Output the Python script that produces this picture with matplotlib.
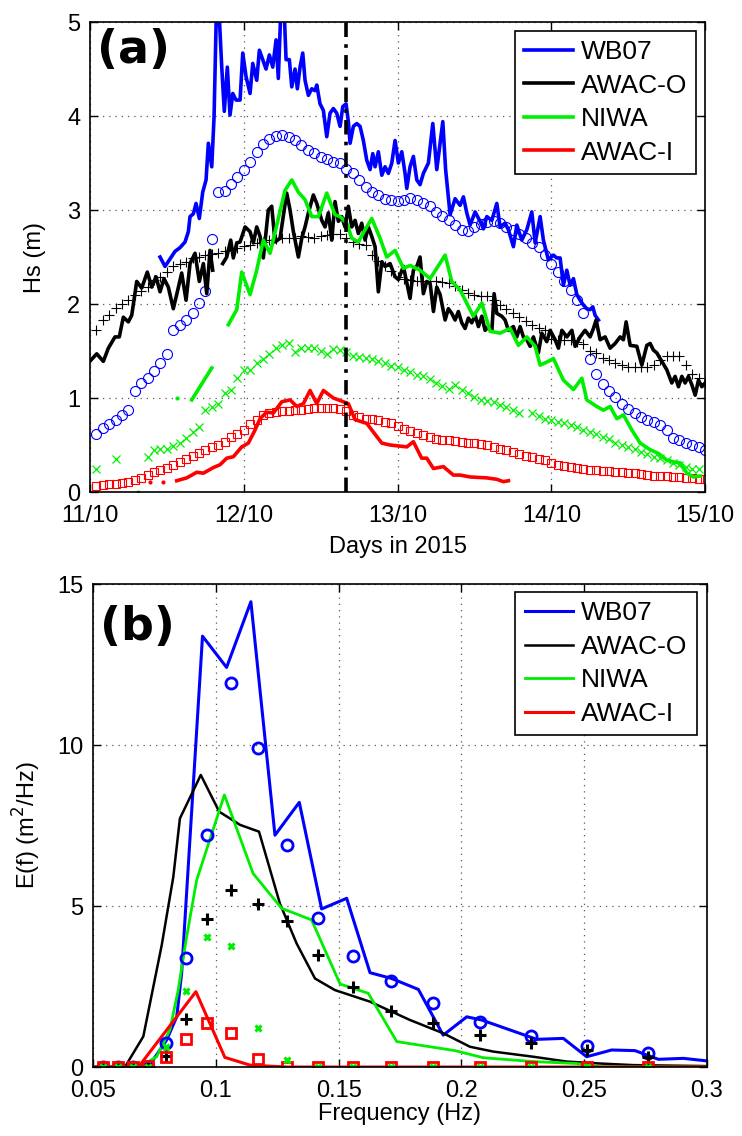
import matplotlib.pyplot as plt
import numpy as np

plt.rcParams['font.family'] = ['Liberation Sans', 'DejaVu Sans']

# ---------------- panel (a): Hs time series, hours after 11/10 00:00 ----------------
wb07_h = [10.93, 11.71, 12.5, 13.27, 14.05, 14.83, 15.35, 15.61, 16.13, 16.55, 17.06, 17.59, 18.11,
          18.47, 19.0, 19.36, 19.78, 20.18, 20.56, 20.96, 21.43, 21.85, 22.28, 22.79, 23.42, 23.84,
          24.35, 24.98, 25.4, 26.02, 26.43, 26.96, 27.47, 27.99, 28.52, 29.04, 29.39, 29.82, 30.2,
          30.6, 31.11, 31.49, 32.0, 32.36, 32.78, 33.2, 33.56, 34.08, 34.61, 35.12, 35.39, 35.9,
          36.42, 36.95, 37.46, 37.98, 38.51, 39.03, 39.45, 39.96, 40.32, 40.59, 41.1, 41.63, 42.15,
          42.66, 43.19, 43.71, 44.13, 44.49, 45.0, 45.54, 46.05, 46.57, 47.1, 47.61, 48.13, 48.66,
          49.17, 49.44, 49.95, 50.47, 51.0, 51.51, 52.03, 52.81, 53.5, 54.12, 55.06, 55.5, 56.2,
          56.98, 57.76, 58.28, 58.8, 59.32, 60.1, 60.88, 61.4, 61.93, 62.71, 63.49, 64.0, 64.78,
          65.3, 66.08, 66.61, 67.39, 68.17, 68.95, 69.47, 70.25, 70.76, 71.54, 72.32, 72.85, 73.37,
          73.88, 74.41, 74.93, 75.45, 75.98, 76.49, 77.0, 77.53, 78.05, 78.47, 78.83, 79.35]
wb07_hs = [2.50, 2.40, 2.48, 2.56, 2.60, 2.66, 2.77, 2.93, 2.96, 3.07, 2.91, 3.19, 3.32,
           3.71, 3.46, 3.99, 5.3, 5.05, 4.52, 4.05, 4.52, 4.01, 4.24, 4.17, 4.17, 4.67,
           4.42, 4.24, 4.56, 4.38, 4.70, 4.60, 4.50, 4.65, 4.52, 4.81, 4.40, 5.2, 5.3,
           4.60, 4.60, 4.31, 4.50, 4.29, 4.52, 4.67, 4.38, 4.22, 4.29, 4.27, 4.33, 4.13,
           4.06, 3.78, 4.03, 4.08, 4.03, 3.89, 4.10, 4.13, 3.94, 3.71, 3.89, 3.92, 3.89,
           3.74, 3.53, 3.43, 3.60, 3.46, 3.62, 3.37, 3.46, 3.39, 3.50, 3.74, 3.50, 3.62,
           3.39, 3.23, 3.46, 3.57, 3.32, 3.27, 3.39, 3.50, 3.92, 3.43, 3.94, 3.43, 2.95,
           3.12, 3.05, 3.14, 2.97, 2.84, 2.98, 2.88, 2.80, 2.93, 2.89, 3.07, 2.82, 2.86,
           2.79, 2.61, 2.84, 2.68, 2.79, 2.98, 2.65, 2.93, 2.68, 2.47, 2.52, 2.49, 2.49,
           2.20, 2.36, 2.20, 2.27, 2.10, 2.04, 1.99, 1.95, 1.94, 1.97, 1.88, 1.83]

awaco_h = [0.1, 1.05, 2.08, 2.86, 3.9, 4.57, 5.2, 5.98, 6.51, 7.29, 8.07, 8.94, 9.63, 10.3, 10.93,
           11.55, 12.22, 13.0, 13.63, 14.31, 14.99, 15.61, 16.39, 17.06, 17.69, 18.22, 18.73, 19.15,
           19.9, 20.71, 21.34, 21.96, 22.37, 22.9, 23.42, 24.2, 24.98, 25.49, 26.02, 26.54, 27.05,
           27.83, 28.36, 28.88, 29.66, 30.7, 31.22, 31.74, 32.52, 33.05, 33.56, 34.08, 34.86, 35.39,
           36.17, 36.68, 37.2, 37.73, 38.24, 38.76, 39.29, 39.8, 40.32, 40.85, 41.37, 41.88, 42.41,
           42.93, 43.44, 43.97, 44.49, 45.0, 45.54, 46.05, 46.83, 47.61, 48.13, 48.91, 49.95, 50.47,
           51.0, 51.51, 52.03, 52.55, 53.08, 53.6, 54.12, 54.64, 55.42, 55.93, 56.46, 56.98, 57.49,
           58.02, 58.54, 59.05, 59.58, 60.1, 60.62, 61.15, 61.66, 62.18, 62.71, 63.07, 63.49, 64.27,
           64.78, 65.3, 66.08, 66.61, 67.12, 67.64, 68.17, 68.69, 69.2, 69.98, 70.51, 71.29, 71.81,
           72.59, 73.11, 73.64, 74.42, 75.2, 75.71, 76.49, 77.27, 78.05, 78.57, 78.99, 79.61, 80.39,
           81.17, 81.95, 82.74, 83.25, 83.67, 84.3, 85.34, 86.12, 86.9, 87.42, 87.93, 88.46, 89.24,
           90.02, 90.8, 91.32, 91.84, 92.37, 92.88, 93.4, 93.93, 94.45, 94.96, 95.49, 96.0]
awaco_hs = [1.40, 1.47, 1.39, 1.53, 1.65, 1.65, 1.86, 1.81, 1.88, 2.24, 2.17, 2.34, 2.18, 2.29, 2.13,
            2.27, 2.18, 1.95, 2.13, 2.33, 2.04, 2.43, 2.54, 2.24, 2.43, 2.11, 2.57, 2.36,
            np.nan, 2.43, 2.50, 2.68, 2.49, 2.65, 2.66, 2.82, 2.77, 2.65, 2.82, 2.72, 2.49,
            3.00, 3.04, 2.66, 2.70, 3.18, 3.00, 2.77, 2.50, 2.70, 2.82, 2.97, 3.16, 3.07,
            2.89, 2.82, 2.97, 2.68, 3.09, 2.88, 2.93, 2.82, 3.04, 2.82, 2.89, 2.75, 2.86,
            2.68, 2.82, 2.72, 2.61, 2.13, 2.45, 2.40, 2.43, 2.29, 2.26, 2.40, 2.06, 2.36,
            2.40, 2.50, 2.11, 2.24, 2.22, 1.92, 2.18, 2.10, 1.83, 1.95, 1.90, 1.83, 1.92,
            1.80, 1.74, 1.85, 1.80, 1.88, 1.76, 1.87, 1.72, 1.76, 1.71, 2.11, 1.90, 1.87,
            1.83, 1.72, 1.76, 1.65, 1.76, 1.65, 1.62, 1.55, 1.65, 1.48, 1.69, 1.60, 1.72,
            1.62, 1.53, 1.72, 1.65, 1.72, 1.55, 1.65, 1.72, 1.65, 1.74, 1.83, 1.62, 1.65,
            1.53, 1.58, 1.65, 1.62, 1.81, 1.56, 1.55, 1.35, 1.56, 1.58, 1.51, 1.48, 1.39,
            1.30, 1.16, 1.23, 1.12, 1.23, 1.16, 1.23, 1.14, 1.03, 1.19, 1.12, 1.16]

niwa_h = [15.88, 17.44, 19.0, 20.3, 21.59, 22.9, 23.68, 24.98, 26.02, 27.05, 28.1, 30.44, 31.49,
          32.52, 33.56, 34.61, 35.64, 36.95, 38.24, 39.03, 40.07, 40.85, 41.88, 42.93, 43.97,
          45.27, 46.31, 47.61, 48.91, 49.95, 51.51, 53.08, 55.42, 56.46, 57.76, 59.83, 61.15,
          62.44, 64.0, 65.56, 66.86, 68.17, 69.47, 70.25, 71.54, 72.32, 73.88, 75.45, 76.76,
          77.53, 79.09, 80.13, 81.17, 82.22, 83.25, 84.56, 85.86, 87.42, 88.71, 90.02, 91.06,
          92.1, 93.15, 94.18, 95.22]
niwa_hs = [0.98, 1.15, 1.32, np.nan, 1.78, 1.94, 2.34, 2.10, 2.36, 2.68, 2.54, 3.21, 3.32,
           3.19, 3.11, 2.93, 2.93, 3.18, 2.95, 2.93, 2.86, 2.70, 2.66, 2.79, 2.91,
           2.70, 2.50, 2.57, 2.38, 2.41, 2.36, 2.27, 2.52, 2.24, 2.15, 1.87, 2.01,
           1.71, 1.69, 1.74, 1.56, 1.65, 1.55, 1.35, 1.39, 1.42, 1.19, 1.09, 1.21,
           0.98, 0.91, 0.87, 0.91, 0.78, 0.82, 0.66, 0.52, 0.45, 0.41, 0.34, 0.32,
           0.31, 0.20, 0.16, 0.17]
niwa_dot_h = [7.54, 13.5]
niwa_dot_hs = [0.0, 1.0]

awaci_h = [13.53, 15.09, 16.66, 17.69, 19.25, 20.29, 21.34, 22.37, 23.68, 24.71, 25.76, 26.54,
           27.58, 28.61, 29.93, 31.22, 32.27, 33.3, 34.34, 35.39, 36.42, 37.98, 39.54, 40.32,
           41.37, 43.19, 45.54, 46.83, 49.44, 50.47, 51.76, 52.55, 53.6, 55.15, 56.71, 57.76,
           59.32, 61.93, 63.49, 64.52, 65.3]
awaci_hs = [0.12, 0.15, 0.21, 0.20, 0.26, 0.29, 0.36, 0.375, 0.48, 0.52, 0.66, 0.78,
            0.85, 0.84, 0.96, 0.98, 0.91, 0.94, 1.08, 0.94, 1.08, 1.00, 0.96, 0.94,
            0.77, 0.73, 0.52, 0.50, 0.48, 0.535, 0.36, 0.36, 0.25, 0.27, 0.18, 0.18,
            0.16, 0.15, 0.135, 0.11, 0.12]
awaci_dot_h = [9.37, 11.44]
awaci_dot_hs = [0.11, 0.11]

# model output, hourly (hours 1..96)
model_h = np.arange(1, 97)
wb07_mod = [0.62, 0.68, 0.72, 0.77, 0.82, 0.87, 1.07, 1.16, 1.21, 1.29, 1.37, 1.47, 1.72, 1.78, 1.83, 1.90,
            2.01, 2.14, 2.69, 3.195, 3.205, 3.28, 3.355, 3.43, 3.51, 3.62, 3.70, 3.76, 3.79, 3.80, 3.78, 3.74,
            3.69, 3.64, 3.61, 3.56, 3.54, 3.51, 3.50, 3.44, 3.39, 3.32, 3.25, 3.19, 3.16, 3.12, 3.11, 3.10,
            3.11, 3.13, 3.11, 3.08, 3.04, 2.98, 2.94, 2.89, 2.84, 2.79, 2.78, 2.82, 2.85, 2.87, 2.88, 2.86,
            2.82, 2.79, 2.75, 2.70, 2.65, 2.61, 2.52, 2.43, 2.34, 2.24, 2.15, 2.04, 1.90, 1.42, 1.26, 1.15,
            1.07, 1.01, 0.94, 0.88, 0.84, 0.80, 0.77, 0.74, 0.71, 0.66, 0.57, 0.55, 0.52, 0.50, 0.475, 0.45]
awaco_mod = [1.72, 1.83, 1.88, 1.96, 2.00, 2.04, 2.10, 2.14, 2.18, 2.26, 2.29, 2.34, 2.40, 2.43, 2.45, 2.49,
             2.50, 2.52, 2.53, 2.54, 2.56, 2.58, 2.60, 2.62, 2.63, 2.65, 2.66, 2.68, 2.69, 2.70, 2.70, 2.70,
             2.72, 2.71, 2.70, 2.72, 2.73, 2.74, 2.74, 2.70, 2.66, 2.64, 2.63, 2.52, 2.46, 2.40, 2.35, 2.29,
             2.27, 2.26, 2.25, 2.25, 2.24, 2.24, 2.23, 2.22, 2.19, 2.15, 2.12, 2.10, 2.09, 2.08, 2.04, 1.99,
             1.95, 1.90, 1.86, 1.82, 1.78, 1.75, 1.72, 1.63, 1.62, 1.62, 1.62, 1.60, 1.57, 1.50, 1.48, 1.43,
             1.40, 1.37, 1.35, 1.33, 1.33, 1.33, 1.33, 1.35, 1.40, 1.45, 1.45, 1.45, 1.35, 1.26, 1.21, 1.16]
niwa_mod = [0.25, np.nan, np.nan, 0.35, np.nan, np.nan, np.nan, np.nan, 0.375, 0.45, 0.46, 0.46, 0.49, 0.52,
            0.57, 0.64, 0.69, 0.87, 0.90, 0.94, 1.05, 1.08, 1.21, 1.30, 1.30, 1.37, 1.42, 1.47, 1.53, 1.56,
            1.58, 1.49, 1.53, 1.53, 1.53, 1.50, 1.47, 1.52, 1.51, 1.49, 1.45, 1.44, 1.43, 1.42, 1.39, 1.37,
            1.34, 1.33, 1.30, 1.28, 1.25, 1.23, 1.20, 1.16, 1.13, 1.10, 1.14, 1.08, 1.05, 1.01, 0.98, 0.97,
            0.96, 0.93, 0.90, 0.87, 0.84, np.nan, 0.84, 0.81, 0.78, 0.77, 0.75, 0.73, 0.71, 0.69, 0.66, 0.64,
            0.62, 0.59, 0.56, 0.52, 0.50, 0.48, 0.46, 0.43, 0.40, 0.375, 0.36, 0.34, 0.31, 0.29, 0.27, 0.25,
            0.25, np.nan]
awaci_mod = [0.06, 0.07, 0.08, 0.09, 0.10, 0.11, 0.13, 0.15, 0.18, 0.21, 0.23, 0.26, 0.29, 0.32, 0.35, 0.38,
             0.42, 0.45, 0.48, 0.50, 0.53, 0.58, 0.62, 0.66, 0.72, 0.77, 0.82, 0.84, 0.85, 0.86, 0.86, 0.87,
             0.87, 0.88, 0.89, 0.89, 0.89, 0.89, 0.88, 0.86, 0.82, 0.80, 0.78, 0.78, 0.77, 0.75, 0.73, 0.70,
             0.67, 0.65, 0.63, 0.61, 0.58, 0.56, 0.55, 0.55, 0.54, 0.535, 0.525, 0.52, 0.51, 0.50, 0.48, 0.46,
             0.445, 0.43, 0.40, 0.38, 0.37, 0.355, 0.34, 0.31, 0.29, 0.275, 0.265, 0.255, 0.245, 0.235, 0.23,
             0.225, 0.22, 0.215, 0.21, 0.205, 0.20, 0.19, 0.18, 0.175, 0.17, 0.165, 0.16, 0.155, 0.15, 0.145,
             0.14, 0.135]

event_h = 40  # time of the spectra in panel (b)
day_ticks = [11, 12, 13, 14, 15]
day_labels = ['11/10', '12/10', '13/10', '14/10', '15/10']

# ---------------- panel (b): spectra ----------------
f_wb07 = [0.05, 0.055, 0.06, 0.065, 0.0691, 0.0745, 0.080, 0.0841, 0.0861, 0.0946, 0.1044, 0.1143,
          0.1241, 0.1340, 0.1431, 0.1533, 0.1628, 0.1716, 0.1825, 0.1926, 0.2022, 0.2083, 0.2307,
          0.2415, 0.2510, 0.2612, 0.2707, 0.2802, 0.2904, 0.30]
e_wb07 = [0, 0, 0, 0, 0.02, 0.22, 0.84, 1.56, 2.91, 13.38, 12.41, 14.45,
          7.20, 8.22, 4.91, 5.24, 2.93, 2.75, 2.41, 0.99, 1.56, 1.46, 0.86,
          0.89, 0.32, 0.53, 0.51, 0.24, 0.27, 0.19]
f_awaco = [0.05, 0.063, 0.0705, 0.078, 0.0827, 0.0854, 0.0939, 0.1014, 0.1099, 0.1176, 0.1261, 0.1329,
           0.1404, 0.1485, 0.1628, 0.1791, 0.1926, 0.2035, 0.2130, 0.2293, 0.2429, 0.2564, 0.27, 0.30]
e_awaco = [0, 0, 0.95, 3.79, 5.9, 7.72, 9.07, 7.93, 7.52, 7.31, 5.08, 3.84,
           2.75, 2.39, 2.03, 1.46, 1.05, 0.63, 0.48, 0.32, 0.17, 0.11, 0.06, 0.03]
f_niwa = [0.05, 0.069, 0.0759, 0.0813, 0.0847, 0.0879, 0.0922, 0.1035, 0.1152, 0.1268, 0.1390, 0.1506,
          0.1621, 0.1737, 0.1974, 0.2089, 0.2293, 0.2469, 0.2564, 0.30]
e_niwa = [0, 0, 0.32, 1.15, 2.39, 3.94, 5.80, 8.45, 6.01, 4.93, 4.57, 2.58,
          2.29, 0.79, 0.51, 0.29, 0.17, 0.11, 0.01, 0]
f_awaci = [0.05, 0.0685, 0.0919, 0.1037, 0.1139, 0.1289, 0.30]
e_awaci = [0, 0, 2.34, 0.30, 0.06, 0.0, 0]

f_mod = [0.0542, 0.0600, 0.0662, 0.0725, 0.0798, 0.0878, 0.0966, 0.1064, 0.1172, 0.1289, 0.1417,
         0.1557, 0.1712, 0.1886, 0.2076, 0.2283, 0.2513, 0.2761]
e_wb07_mod = [0, 0, 0, 0.01, 0.75, 3.38, 7.2, 11.94, 9.9, 6.9, 4.62, 3.45, 2.68, 2.0, 1.41, 0.96, 0.66, 0.44]
e_awaco_mod = [0, 0, 0, 0, 0.34, 1.48, 4.59, 5.5, 5.06, 4.54, 3.48, 2.48, 1.75, 1.36, 0.99, 0.74, 0.53, 0.32]
e_niwa_mod = [0, 0, 0, 0, 0.63, 2.37, 4.05, 3.76, 1.2, 0.22, 0, 0, 0, 0, 0, 0, 0, 0]
e_awaci_mod = [0, 0, 0, 0.03, 0.32, 0.86, 1.36, 1.05, 0.25, 0, 0, 0, 0, 0, 0, 0, 0, 0]

names = ['WB07', 'AWAC-O', 'NIWA', 'AWAC-I']
cols = ['#0000ff', '#000000', '#00ee00', '#ff0000']


def days(h):
    return 11 + np.asarray(h, dtype=float) / 24.0


def style(ax):
    ax.grid(True, linestyle=(0, (1, 4)), color='0.35', linewidth=0.9)
    ax.tick_params(direction='in', length=6, width=1, top=True, right=True, labelsize=17, pad=7)
    ax.tick_params(axis='x', pad=9)
    for s in ax.spines.values():
        s.set_linewidth(1.2)


fig = plt.figure(figsize=(7.42, 11.36), dpi=100)

# ---------------- (a) ----------------
ax1 = fig.add_axes([0.1213, 0.5669, 0.829, 0.4137])
ax1.plot(days(model_h), wb07_mod, 'o', mfc='none', mec=cols[0], ms=7.2, mew=0.8)
ax1.plot(days(model_h), awaco_mod, '+', color=cols[1], ms=7, mew=0.8)
ax1.plot(days(model_h), niwa_mod, 'x', color=cols[2], ms=6, mew=0.9)
ax1.plot(days(model_h), awaci_mod, 's', mfc='none', mec=cols[3], ms=5.8, mew=0.8)
l1, = ax1.plot(days(wb07_h), wb07_hs, color=cols[0], lw=2.6)
l2, = ax1.plot(days(awaco_h), awaco_hs, color=cols[1], lw=2.6)
l3, = ax1.plot(days(niwa_h), niwa_hs, color=cols[2], lw=2.6)
l4, = ax1.plot(days(awaci_h), awaci_hs, color=cols[3], lw=2.6)
ax1.plot(days(niwa_dot_h), niwa_dot_hs, '.', color=cols[2], ms=4)
ax1.plot(days(awaci_dot_h), awaci_dot_hs, '.', color=cols[3], ms=4)
ax1.axvline(days(event_h), color='k', lw=2.6, linestyle=(0, (4, 2, 1, 2)))
ax1.set_xlim(11, 15)
ax1.set_ylim(0, 5)
ax1.set_xticks(day_ticks)
ax1.set_xticklabels(day_labels)
ax1.set_yticks([0, 1, 2, 3, 4, 5])
ax1.set_xlabel('Days in 2015', fontsize=17, labelpad=7)
ax1.set_ylabel('Hs (m)', fontsize=17, labelpad=15)
style(ax1)
leg = ax1.legend([l1, l2, l3, l4], names, loc='upper right', bbox_to_anchor=(0.9854, 0.981),
                 borderaxespad=0, fancybox=False, edgecolor='black', framealpha=1, fontsize=19,
                 handlelength=1.85, handletextpad=0.3, labelspacing=0.36, borderpad=0.35)
leg.get_frame().set_linewidth(1.2)
ax1.text(0.011, 0.987, '(a)', transform=ax1.transAxes, fontsize=33, fontweight='bold',
         family='DejaVu Sans', va='top', ha='left')

# ---------------- (b) ----------------
ax2 = fig.add_axes([0.1253, 0.0607, 0.8275, 0.4252])
m1, = ax2.plot(f_wb07, e_wb07, color=cols[0], lw=2.2)
m2, = ax2.plot(f_awaco, e_awaco, color=cols[1], lw=1.8)
m3, = ax2.plot(f_niwa, e_niwa, color=cols[2], lw=2.0)
m4, = ax2.plot(f_awaci, e_awaci, color=cols[3], lw=2.2)
ax2.plot(f_mod, e_wb07_mod, 'o', mfc='none', mec=cols[0], ms=8, mew=2)
ax2.plot(f_mod, e_awaco_mod, '+', color=cols[1], ms=8, mew=2.2)
ax2.plot(f_mod, e_awaci_mod, 's', mfc='none', mec=cols[3], ms=7, mew=2)
ax2.plot(f_mod, e_niwa_mod, 'x', color=cols[2], ms=5, mew=2.2)
ax2.set_xlim(0.05, 0.3)
ax2.set_ylim(0, 15)
ax2.set_xticks([0.05, 0.1, 0.15, 0.2, 0.25, 0.3])
ax2.set_xticklabels(['0.05', '0.1', '0.15', '0.2', '0.25', '0.3'])
ax2.set_yticks([0, 5, 10, 15])
ax2.set_xlabel('Frequency (Hz)', fontsize=17, labelpad=1)
ax2.set_ylabel('E(f) (m$^2$/Hz)', fontsize=17, labelpad=10)
style(ax2)
leg2 = ax2.legend([m1, m2, m3, m4], names, loc='upper right', bbox_to_anchor=(0.9837, 0.9834),
                  borderaxespad=0, fancybox=False, edgecolor='black', framealpha=1, fontsize=19,
                  handlelength=1.85, handletextpad=0.3, labelspacing=0.36, borderpad=0.35)
leg2.get_frame().set_linewidth(1.2)
ax2.text(0.012, 0.957, '(b)', transform=ax2.transAxes, fontsize=33, fontweight='bold',
         family='DejaVu Sans', va='top', ha='left')

fig.savefig('out.png', dpi=100)
